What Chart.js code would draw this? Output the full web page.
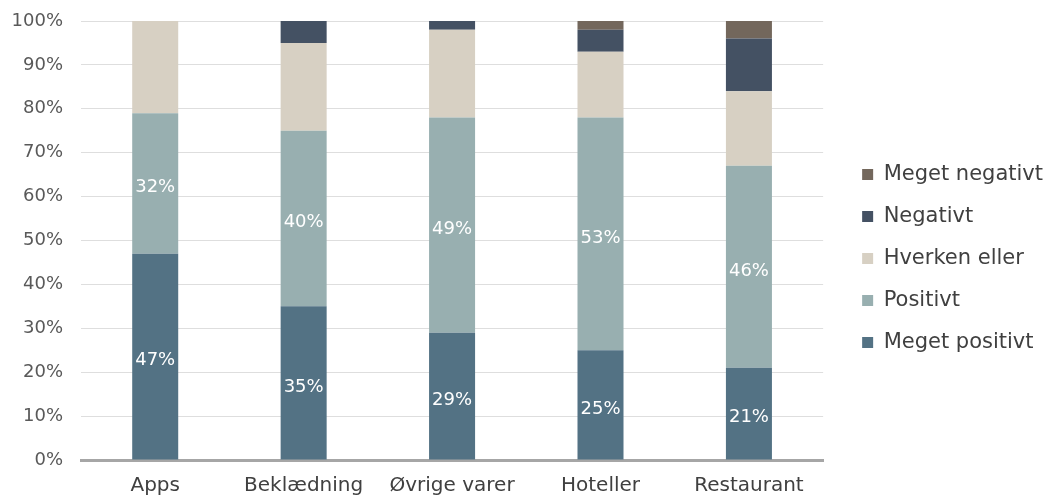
<!DOCTYPE html>
<html>
<head>
<meta charset="utf-8">
<script src="https://cdn.jsdelivr.net/npm/chart.js@4"></script>
<style>
  body { margin: 0; background: #fff; }
  #wrap { width: 1049px; height: 504px; }
</style>
</head>
<body>
<div id="wrap"><canvas id="chart"></canvas></div>
<script>
const categories = ["Apps", "Beklædning", "Øvrige varer", "Hoteller", "Restaurant"];
const megetPositivt = [47, 35, 29, 25, 21];
const positivt = [32, 40, 49, 53, 46];
const hverkenEller = [21, 20, 20, 15, 17];
const negativt = [0, 5, 2, 5, 12];
const megetNegativt = [0, 0, 0, 2, 4];
const yTicks = [0, 10, 20, 30, 40, 50, 60, 70, 80, 90, 100];

const FONT = "'DejaVu Sans', sans-serif";

// labels inside the two lower segments
const barLabels = {
  id: "barLabels",
  afterDatasetsDraw(chart) {
    const ctx = chart.ctx;
    ctx.save();
    ctx.fillStyle = "#ffffff";
    ctx.font = "18px " + FONT;
    ctx.textAlign = "center";
    ctx.textBaseline = "middle";
    [0, 1].forEach(di => {
      const meta = chart.getDatasetMeta(di);
      meta.data.forEach((bar, i) => {
        const v = chart.data.datasets[di].data[i];
        if (!v) return;
        ctx.fillText(v + "%", bar.x, (bar.y + bar.base) / 2 + 4);
      });
    });
    ctx.restore();
  }
};

// more room between plot and legend, legend a bit higher
const legendGap = {
  id: "legendGap",
  afterInit(chart) {
    const lg = chart.legend;
    const fit = lg.fit.bind(lg);
    lg.fit = function () { fit(); this.width += 14; };
  },
  afterLayout(chart) {
    const lg = chart.legend;
    lg.left += 18;
    lg.top -= 4;
    lg.bottom -= 4;
  }
};

const ctx = document.getElementById("chart").getContext("2d");
new Chart(ctx, {
  type: "bar",
  data: {
    labels: categories,
    datasets: [
      { label: "Meget positivt", data: megetPositivt, backgroundColor: "#537284" },
      { label: "Positivt", data: positivt, backgroundColor: "#98afb0" },
      { label: "Hverken eller", data: hverkenEller, backgroundColor: "#d7d0c3" },
      { label: "Negativt", data: negativt, backgroundColor: "#445163" },
      { label: "Meget negativt", data: megetNegativt, backgroundColor: "#73675c" }
    ]
  },
  options: {
    responsive: true,
    maintainAspectRatio: false,
    animation: false,
    datasets: { bar: { barPercentage: 0.62, categoryPercentage: 0.5 } },
    layout: { padding: { top: 21, left: 8, right: 0, bottom: 0 } },
    plugins: {
      tooltip: { enabled: false },
      legend: {
        position: "right",
        reverse: true,
        labels: {
          boxWidth: 11,
          boxHeight: 11,
          padding: 21,
          color: "#404040",
          font: { family: FONT, size: 21 }
        }
      }
    },
    scales: {
      x: {
        stacked: true,
        grid: { display: false },
        border: { color: "#a6a6a6", width: 3 },
        ticks: { color: "#404040", font: { family: FONT, size: 20 }, padding: 6 }
      },
      y: {
        stacked: true,
        min: 0,
        max: 100,
        afterBuildTicks: axis => { axis.ticks = yTicks.map(v => ({ value: v })); },
        afterFit: axis => { axis.width = 73; axis.paddingTop = 0; },
        grid: { color: "#dedede", drawTicks: false },
        border: { display: false },
        ticks: {
          color: "#595959",
          font: { family: FONT, size: 18 },
          padding: 18,
          callback: v => v + "%"
        }
      }
    }
  },
  plugins: [barLabels, legendGap]
});
</script>
</body>
</html>
